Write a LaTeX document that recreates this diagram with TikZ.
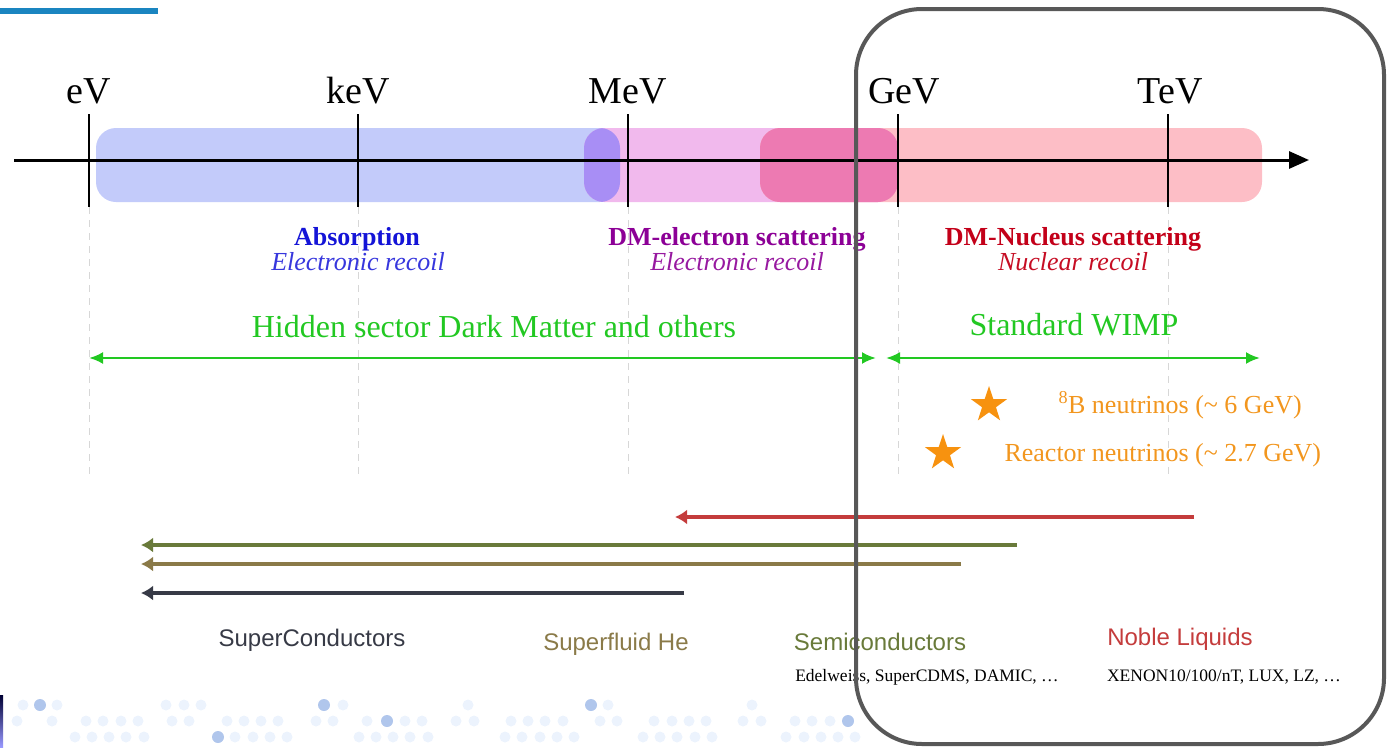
\documentclass[tikz,border=0pt]{standalone}
\usepackage{fontspec}
\setmainfont{Liberation Serif}
\setsansfont{Liberation Sans}
\usetikzlibrary{arrows.meta,shapes.geometric}

\definecolor{topbar}{RGB}{26,133,192}
\definecolor{bandblue}{RGB}{195,203,250}
\definecolor{bandpink}{RGB}{241,185,237}
\definecolor{bandred}{RGB}{253,190,198}
\definecolor{mixviolet}{RGB}{168,142,245}
\definecolor{mixrose}{RGB}{237,122,178}
\definecolor{absblue}{RGB}{20,20,215}
\definecolor{elpurple}{RGB}{140,0,150}
\definecolor{nucred}{RGB}{195,0,25}
\definecolor{wimpgreen}{RGB}{34,200,34}
\definecolor{nuorange}{RGB}{242,150,30}
\definecolor{starorange}{RGB}{247,146,15}
\definecolor{noblered}{RGB}{196,60,60}
\definecolor{semigreen}{RGB}{105,122,58}
\definecolor{heliumbrown}{RGB}{138,122,72}
\definecolor{scslate}{RGB}{55,58,70}
\definecolor{gridgray}{RGB}{215,215,215}
\definecolor{boxgray}{RGB}{88,88,88}
\definecolor{dotlight}{RGB}{236,243,253}
\definecolor{dotstrong}{RGB}{176,198,236}

\tikzset{
  scale label/.style={font=\fontsize{38}{40}\selectfont, anchor=base},
  process title/.style={font=\fontsize{26}{28}\selectfont\bfseries, anchor=base},
  recoil label/.style={font=\fontsize{26}{28}\selectfont\itshape, anchor=base},
  regime label/.style={font=\fontsize{32}{34}\selectfont, anchor=base, text=wimpgreen},
  nu label/.style={font=\fontsize{26}{28}\selectfont, anchor=base west, text=nuorange},
  tech label/.style={font=\sffamily\fontsize{24}{26}\selectfont, anchor=base},
  expt label/.style={font=\fontsize{17.5}{19}\selectfont, anchor=base},
  band/.style={rounded corners=20pt},
  tickline/.style={line width=1.2pt, black},
  gridline/.style={line width=1pt, gridgray, dash pattern=on 7pt off 6pt},
  range arrow/.style={line width=2.5pt, wimpgreen, {Latex[length=14pt,width=12pt]}-{Latex[length=14pt,width=12pt]}},
  reach arrow/.style={line width=4pt, -{Latex[length=12pt,width=15pt]}},
  nustar/.style={star, star points=5, star point ratio=2.6, fill=starorange, inner sep=0pt, minimum size=38pt},
}

\begin{document}
\begin{tikzpicture}[x=1pt,y=-1pt]
\useasboundingbox (0,0) rectangle (1389,747);

% header rule
\fill[topbar] (0,8) rectangle (158,14);

% decorative dot rows along the lower edge
\foreach \x in {23,57,166,184,201,343,468,608,752}
  \fill[dotlight] (\x,705) circle (5.5pt);
\foreach \x in {17,52,86,103,121,138,172,189,227,244,261,278,316,333,367,405,422,456,474,511,528,545,563,600,617,654,672,689,706,743,761,795,812,830}
  \fill[dotlight] (\x,721) circle (5.5pt);
\foreach \x in {75,92,109,126,144,235,253,270,287,359,376,393,410,428,505,522,540,557,574,643,660,677,695,712,786,804,821,838,855}
  \fill[dotlight] (\x,737) circle (5.5pt);
\foreach \x/\y in {40/705,324/705,591/705,387/721,848/721,218/737}
  \fill[dotstrong] (\x,\y) circle (6pt);
\shade[top color=black!80!blue, bottom color=blue!40!white] (0,695) rectangle (3,747);

% energy bands
\fill[bandblue, band] (96,128) rectangle (620,202);
\fill[bandpink, band] (584,128) rectangle (898,202);
\fill[bandred, band] (760,128) rectangle (1262,202);
\begin{scope}
  \clip[band] (584,128) rectangle (898,202);
  \fill[mixviolet, band] (96,128) rectangle (620,202);
\end{scope}
\begin{scope}
  \clip[band] (760,128) rectangle (1262,202);
  \fill[mixrose, band] (584,128) rectangle (898,202);
\end{scope}

% energy axis with decade ticks
\coordinate (axis-start) at (14,160);
\coordinate (axis-end) at (1309,160);
\draw[line width=3pt, -{Triangle[length=20pt,width=17pt]}] (axis-start) -- (axis-end);

\foreach \name/\x in {eV/89, keV/358, MeV/628, GeV/898, TeV/1168} {
  \coordinate (\name-top) at (\x,114);
  \coordinate (\name-mid) at (\x,207);
  \coordinate (\name-low) at (\x,480);
  \draw[tickline] (\name-top) -- (\name-mid);
  \draw[gridline] (\name-mid) -- (\name-low);
}
\node[scale label] (lab-eV)  at (89,103)  {eV};
\node[scale label] (lab-keV) at (358,103) {keV};
\node[scale label] (lab-MeV) at (628,103) {MeV};
\node[scale label] (lab-GeV) at (904,103) {GeV};
\node[scale label] (lab-TeV) at (1170,103) {TeV};

% interaction channels
\node[process title, text=absblue] (absorption) at (357,245) {Absorption};
\node[recoil label, text=absblue!85!white] (abs-recoil) at (358,270) {Electronic recoil};
\node[process title, text=elpurple] (dme) at (737,245) {DM-electron scattering};
\node[recoil label, text=elpurple!90!white] (dme-recoil) at (737,270) {Electronic recoil};
\node[process title, text=nucred] (dmn) at (1073,245) {DM-Nucleus scattering};
\node[recoil label, text=nucred!95!white] (dmn-recoil) at (1073,270) {Nuclear recoil};

% mass regimes
\node[regime label] (hidden) at (494,337) {Hidden sector Dark Matter and others};
\node[regime label] (wimp) at (1074,335) {Standard WIMP};
\coordinate (hidden-l) at (89,358);
\coordinate (hidden-r) at (876,358);
\coordinate (wimp-l) at (886,358);
\coordinate (wimp-r) at (1260,358);
\draw[range arrow] (hidden-l) -- (hidden-r);
\draw[range arrow] (wimp-l) -- (wimp-r);

% neutrino floors
\node[nustar] (star-b8) at (989,405) {};
\node[nustar] (star-reactor) at (943,453) {};
\node[nu label] (nu-b8) at (1055,413) {\textsuperscript{8}B neutrinos (\textasciitilde{} 6 GeV)};
\node[nu label] (nu-reactor) at (1001,461) {Reactor neutrinos (\textasciitilde{} 2.7 GeV)};

% detector technology reach
\coordinate (noble-from) at (1194,517);
\coordinate (noble-to) at (675,517);
\coordinate (semi-from) at (1017,545);
\coordinate (semi-to) at (141,545);
\coordinate (helium-from) at (961,564);
\coordinate (helium-to) at (141,564);
\coordinate (sc-from) at (684,593);
\coordinate (sc-to) at (141,593);
\draw[reach arrow, noblered] (noble-from) -- (noble-to);
\draw[reach arrow, semigreen] (semi-from) -- (semi-to);
\draw[reach arrow, heliumbrown] (helium-from) -- (helium-to);
\draw[reach arrow, scslate] (sc-from) -- (sc-to);

\node[tech label, text=scslate] (superconductors) at (312,646) {SuperConductors};
\node[tech label, text=heliumbrown] (superfluid) at (616,650) {Superfluid He};
\node[tech label, text=semigreen] (semiconductors) at (880,650) {Semiconductors};
\node[tech label, text=noblered] (nobleliquids) at (1180,645) {Noble Liquids};
\node[expt label] (semi-expts) at (927,681) {Edelweiss, SuperCDMS, DAMIC, …};
\node[expt label] (noble-expts) at (1224,681) {XENON10/100/nT, LUX, LZ, …};

% highlighted WIMP-search region
\draw[boxgray, line width=4pt, rounded corners=66pt] (856,9) rectangle (1384,744);
\end{tikzpicture}
\end{document}
